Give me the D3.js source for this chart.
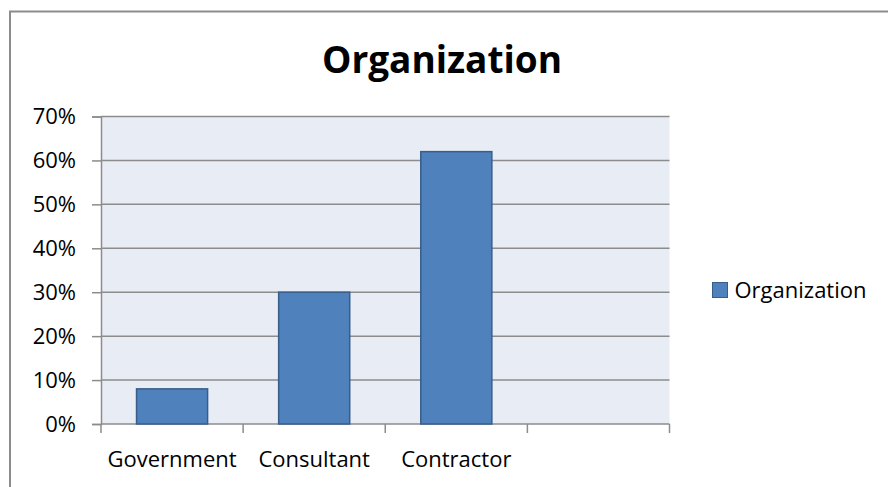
<!DOCTYPE html>
<html>
<head>
<meta charset="utf-8">
<script src="https://cdn.jsdelivr.net/npm/d3@7"></script>
<style>
  body { margin: 0; background: #fff; }
  svg { display: block; font-family: "Open Sans", Lato, sans-serif; }
</style>
</head>
<body>
<div id="chart"></div>
<script>
const categories = ["Government", "Consultant", "Contractor", ""];
const values = [0.08, 0.30, 0.62, null];
const yTicks = [0, 0.1, 0.2, 0.3, 0.4, 0.5, 0.6, 0.7];
const seriesName = "Organization";

const width = 888;
const height = 487;
const plot = { left: 101, right: 669.5, top: 116.5, bottom: 424 };

const svg = d3.select("#chart")
  .append("svg")
  .attr("width", width)
  .attr("height", height);

// outer chart border (bottom/right run off the picture)
svg.append("rect")
  .attr("x", 10)
  .attr("y", 11.5)
  .attr("width", 900)
  .attr("height", 500)
  .attr("fill", "#fff")
  .attr("stroke", "#8c8c8c")
  .attr("stroke-width", 2);

svg.append("text")
  .attr("x", 442)
  .attr("y", 73)
  .attr("text-anchor", "middle")
  .attr("font-size", 37)
  .attr("font-weight", "bold")
  .attr("fill", "#000")
  .text("Organization");

const x = d3.scaleBand()
  .domain(categories.map((c, i) => i))
  .range([plot.left, plot.right])
  .paddingInner(0.5)
  .paddingOuter(0.25);

const y = d3.scaleLinear()
  .domain([0, 0.7])
  .range([plot.bottom, plot.top]);

svg.append("rect")
  .attr("x", plot.left)
  .attr("y", plot.top)
  .attr("width", plot.right - plot.left)
  .attr("height", plot.bottom - plot.top)
  .attr("fill", "#e8ecf4");

// gridlines
svg.append("g")
  .selectAll("line")
  .data(yTicks.filter(d => d > 0))
  .join("line")
  .attr("x1", plot.left)
  .attr("x2", plot.right)
  .attr("y1", d => y(d))
  .attr("y2", d => y(d))
  .attr("stroke", "#8c8c8c")
  .attr("stroke-width", 1.5);

// y axis
const yAxis = svg.append("g")
  .attr("transform", `translate(${plot.left},0)`)
  .call(d3.axisLeft(y).tickValues(yTicks).tickFormat(d3.format(".0%")).tickSize(9).tickPadding(16));
yAxis.select(".domain").attr("stroke", "#8c8c8c").attr("stroke-width", 1.5);
yAxis.selectAll(".tick line").attr("stroke", "#8c8c8c").attr("stroke-width", 1.5);
yAxis.selectAll(".tick text")
  .attr("font-size", 22)
  .attr("fill", "#000")
  .attr("font-family", "'Open Sans', Lato, sans-serif");

// x axis: ticks at band boundaries
const step = x.step();
const boundaries = d3.range(categories.length + 1).map(i => plot.left + i * step);
const xAxis = svg.append("g");
xAxis.append("line")
  .attr("x1", plot.left)
  .attr("x2", plot.right)
  .attr("y1", plot.bottom)
  .attr("y2", plot.bottom)
  .attr("stroke", "#8c8c8c")
  .attr("stroke-width", 1.5);
xAxis.selectAll("line.tick")
  .data(boundaries)
  .join("line")
  .attr("class", "tick")
  .attr("x1", d => d)
  .attr("x2", d => d)
  .attr("y1", plot.bottom)
  .attr("y2", plot.bottom + 9)
  .attr("stroke", "#8c8c8c")
  .attr("stroke-width", 1.5);
xAxis.selectAll("text")
  .data(categories)
  .join("text")
  .attr("x", (d, i) => x(i) + x.bandwidth() / 2)
  .attr("y", 467)
  .attr("text-anchor", "middle")
  .attr("font-size", 22)
  .attr("fill", "#000")
  .text(d => d);

// bars
svg.append("g")
  .selectAll("rect")
  .data(values.map((v, i) => ({ v, i })).filter(d => d.v != null))
  .join("rect")
  .attr("x", d => x(d.i))
  .attr("y", d => y(d.v))
  .attr("width", x.bandwidth())
  .attr("height", d => y(0) - y(d.v))
  .attr("fill", "#4f81bd")
  .attr("stroke", "#385d8a")
  .attr("stroke-width", 1.5);

// legend
const legend = svg.append("g").attr("transform", "translate(712.5,282.5)");
legend.append("rect")
  .attr("width", 15)
  .attr("height", 15)
  .attr("fill", "#4f81bd")
  .attr("stroke", "#385d8a");
legend.append("text")
  .attr("x", 22)
  .attr("y", 15.5)
  .attr("font-size", 22)
  .attr("fill", "#000")
  .text(seriesName);
</script>
</body>
</html>
